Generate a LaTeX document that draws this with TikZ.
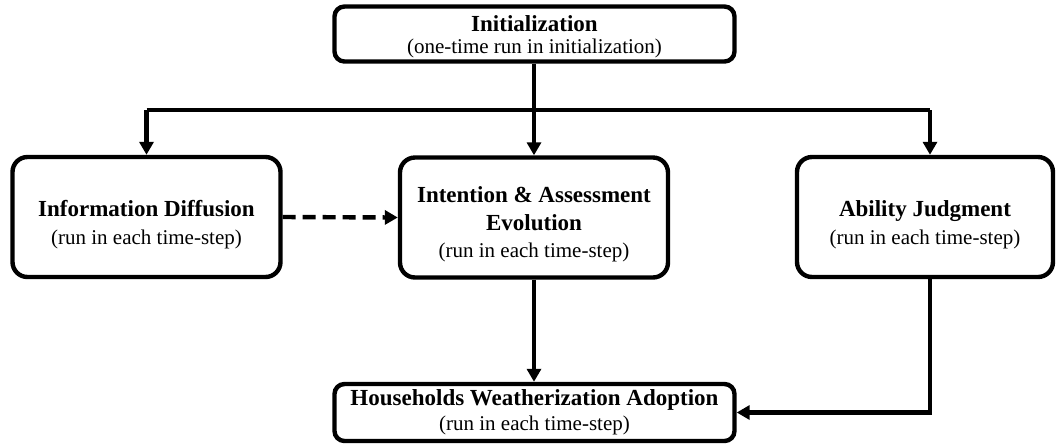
\documentclass[tikz,border=0pt]{standalone}
\usepackage{fontspec}
\setmainfont{Liberation Serif}
\usetikzlibrary{arrows.meta}
\begin{document}
\begin{tikzpicture}[x=0.5pt,y=-0.5pt,
  box/.style={draw=black, line width=2.2pt, rounded corners=7.5pt, align=center, inner sep=0pt, fill=white},
  bigtext/.style={font=\fontsize{11.5}{13.8}\selectfont},
  smalltext/.style={font=\fontsize{11.5}{11.2}\selectfont},
  conn/.style={line width=2.2pt},
  arr/.style={line width=2.2pt, -{Triangle[length=6.5pt,width=7pt]}},
]
\useasboundingbox (0,0) rectangle (1057,447);
\newcommand{\sub}[1]{{\fontsize{10.5}{11}\selectfont #1}}
\newcommand{\tstrut}[1]{\rule{0pt}{#1}}
\node[box, smalltext, rounded corners=5pt, minimum width=200pt, minimum height=27.5pt] (init) at (534.5,34)
  {\tstrut{11pt}\textbf{Initialization}\\\sub{(one-time run in initialization)}};
\node[box, bigtext, minimum width=134pt, minimum height=60pt] (info) at (146.5,217)
  {\tstrut{16pt}\textbf{Information Diffusion}\\\sub{(run in each time-step)}};
\node[box, bigtext, minimum width=134pt, minimum height=60pt] (int) at (534,217.5)
  {\tstrut{15pt}\textbf{Intention \& Assessment}\\\textbf{Evolution}\\\sub{(run in each time-step)}};
\node[box, bigtext, minimum width=128pt, minimum height=60pt] (abil) at (925,217)
  {\tstrut{16pt}\textbf{Ability Judgment}\\\sub{(run in each time-step)}};
\node[box, font=\fontsize{11.5}{12.3}\selectfont, rounded corners=5pt, minimum width=200pt, minimum height=28.5pt] (house) at (534.5,412.5)
  {\textbf{Households Weatherization Adoption}\\\sub{(run in each time-step)}};
\coordinate (bl) at (146.5,110);
\coordinate (bm) at (534,110);
\coordinate (br) at (930,110);
\draw[conn] (bl) -- (br);
\draw[conn] (init.south -| bm) -- (bm);
\draw[arr] (bl) -- (info.north);
\draw[arr] (bm) -- (int.north);
\draw[arr] (br) -- (br |- abil.north);
\draw[arr] (int.south) -- (int.south |- house.north);
\draw[arr] (abil.south -| br) |- (house.east);
\draw[arr, dash pattern=on 6.5pt off 3.5pt] (info.east) -- (int.west);
\end{tikzpicture}
\end{document}
